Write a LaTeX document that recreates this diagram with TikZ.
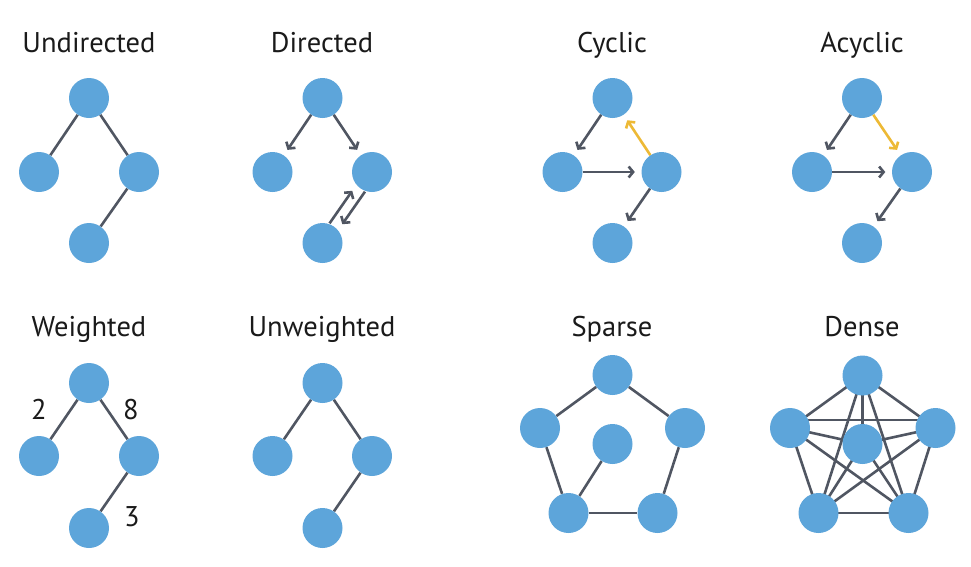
\documentclass[tikz,border=0pt]{standalone}
\usepackage{fontspec}
\setmainfont{PT Sans}
\usetikzlibrary{arrows.meta,backgrounds}
\definecolor{nodeblue}{HTML}{5DA5DA}
\definecolor{edgegray}{HTML}{505662}
\definecolor{cycyellow}{HTML}{EDB935}
\definecolor{titleink}{HTML}{1A1A1A}
\tikzset{
  vert/.style={circle, fill=nodeblue, minimum size=40pt, inner sep=0pt},
  edge/.style={draw=edgegray, line width=2.6pt},
  arr/.style={edge, shorten >=6.5pt, -{Straight Barb[length=4.5pt,width=11pt]}},
  hot/.style={draw=cycyellow},
  title/.style={text=titleink, font=\fontsize{28.5}{32}\selectfont, inner sep=0pt, anchor=base},
  weight/.style={text=titleink, font=\fontsize{28.5}{32}\selectfont, inner sep=0pt, anchor=base}
}
\begin{document}
\begin{tikzpicture}[x=1pt, y=-1pt]
\useasboundingbox (0,0) rectangle (971,566);

% ---------- Undirected ----------
\node[title] (tU) at (89,52.5) {Undirected};
\node[vert] (u1) at (89,98) {};
\node[vert] (u2) at (39,172) {};
\node[vert] (u3) at (139,172) {};
\node[vert] (u4) at (89,243) {};
\begin{scope}[on background layer]
\draw[edge] (u1) -- (u2);
\draw[edge] (u1) -- (u3);
\draw[edge] (u3) -- (u4);
\end{scope}

% ---------- Directed ----------
\node[title] (tD) at (322,52.5) {Directed};
\node[vert] (d1) at (322.5,98) {};
\node[vert] (d2) at (272.5,172) {};
\node[vert] (d3) at (372,172) {};
\node[vert] (d4) at (322.5,243) {};
\draw[arr] (d1) -- (d2);
\draw[arr] (d1) -- (d3);
\draw[arr, transform canvas={shift={(-4.5,-3.1)}}] (d4) -- (d3);
\draw[arr, transform canvas={shift={(4.5,3.1)}}] (d3) -- (d4);

% ---------- Cyclic ----------
\node[title] (tC) at (612,52.5) {Cyclic};
\node[vert] (c1) at (612.5,98) {};
\node[vert] (c2) at (562.5,172) {};
\node[vert] (c3) at (661.5,172) {};
\node[vert] (c4) at (612.5,243) {};
\draw[arr] (c1) -- (c2);
\draw[arr] (c2) -- (c3);
\draw[arr, hot] (c3) -- (c1);
\draw[arr] (c3) -- (c4);

% ---------- Acyclic ----------
\node[title] (tA) at (862,52.5) {Acyclic};
\node[vert] (a1) at (862,98) {};
\node[vert] (a2) at (812,172) {};
\node[vert] (a3) at (912,172) {};
\node[vert] (a4) at (862,243) {};
\draw[arr] (a1) -- (a2);
\draw[arr] (a2) -- (a3);
\draw[arr, hot] (a1) -- (a3);
\draw[arr] (a3) -- (a4);

% ---------- Weighted ----------
\node[title] (tW) at (89,336.5) {Weighted};
\node[vert] (w1) at (89,383) {};
\node[vert] (w2) at (39,456) {};
\node[vert] (w3) at (139,456) {};
\node[vert] (w4) at (89,528) {};
\begin{scope}[on background layer]
\draw[edge] (w1) -- (w2);
\draw[edge] (w1) -- (w3);
\draw[edge] (w3) -- (w4);
\end{scope}
\node[weight] (k2) at (39,419) {2};
\node[weight] (k8) at (131,419) {8};
\node[weight] (k3) at (132,526) {3};

% ---------- Unweighted ----------
\node[title] (tN) at (322,336.5) {Unweighted};
\node[vert] (n1) at (322.5,383) {};
\node[vert] (n2) at (272.5,456) {};
\node[vert] (n3) at (372,456) {};
\node[vert] (n4) at (322.5,528) {};
\begin{scope}[on background layer]
\draw[edge] (n1) -- (n2);
\draw[edge] (n1) -- (n3);
\draw[edge] (n3) -- (n4);
\end{scope}

% ---------- Sparse ----------
\node[title] (tS) at (612,336.5) {Sparse};
\node[vert] (s1) at (612.5,375) {};
\node[vert] (s2) at (540,428) {};
\node[vert] (s3) at (685,428) {};
\node[vert] (s4) at (568.5,513) {};
\node[vert] (s5) at (657.5,513) {};
\node[vert] (s6) at (612.5,444) {};
\begin{scope}[on background layer]
\draw[edge] (s1) -- (s2);
\draw[edge] (s1) -- (s3);
\draw[edge] (s2) -- (s4);
\draw[edge] (s3) -- (s5);
\draw[edge] (s4) -- (s5);
\draw[edge] (s6) -- (s4);
\end{scope}

% ---------- Dense (complete graph on six vertices) ----------
\node[title] (tE) at (862,336.5) {Dense};
\node[vert] (e1) at (862.5,375.5) {};
\node[vert] (e2) at (790,428) {};
\node[vert] (e3) at (935.5,428) {};
\node[vert] (e4) at (818.5,513) {};
\node[vert] (e5) at (908.5,513) {};
\node[vert] (e6) at (862.5,444) {};
\begin{scope}[on background layer]
\foreach \p/\q in {e1/e2,e1/e3,e1/e4,e1/e5,e1/e6,
                   e2/e4,e2/e5,e2/e6,
                   e3/e4,e3/e5,e3/e6,
                   e4/e5,e4/e6,e5/e6}
  \draw[edge] (\p.center) -- (\q.center);
% the left-right edge runs just above the middle vertex
\draw[edge] ([yshift=8pt]e2.center) -- ([yshift=8pt]e3.center);
\end{scope}
\end{tikzpicture}
\end{document}
